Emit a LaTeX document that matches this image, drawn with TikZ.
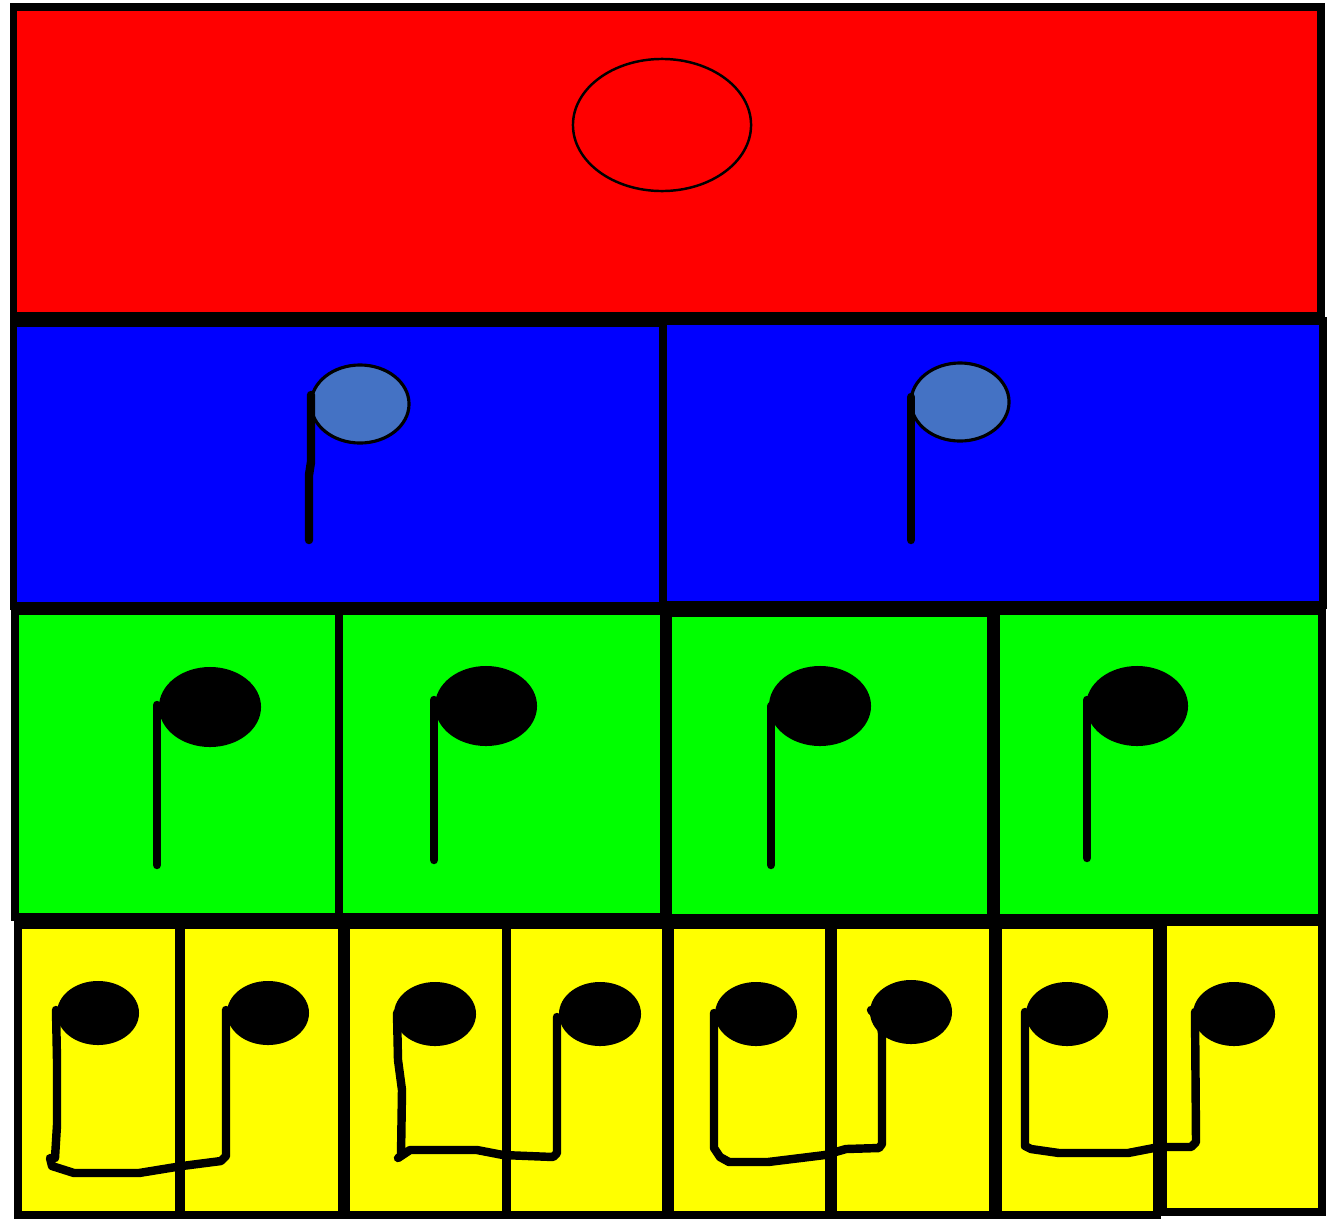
\documentclass[tikz,border=0pt]{standalone}
\usepackage{xcolor}
\usepackage{tikz}
\definecolor{wholeRed}{HTML}{FF0000}
\definecolor{halfBlue}{HTML}{0000FF}
\definecolor{quarterGreen}{HTML}{00FF00}
\definecolor{eighthYellow}{HTML}{FFFF00}
\definecolor{headBlue}{HTML}{4472C4}
\tikzset{
  box/.style={draw=black, line width=2.1pt},
  stem/.style={draw=black, line width=2.4pt, line cap=round, line join=round},
}
\begin{document}
\begin{tikzpicture}[x=0.01cm, y=-0.01cm]
\useasboundingbox (0,0) rectangle (1340,1218);
% whole note
\draw[box, fill=wholeRed] (13.5,7) rectangle (1321,316);
\draw[fill=wholeRed, line width=0.7pt] (662,125) ellipse [x radius=0.89cm, y radius=0.66cm];
% half notes
\draw[box, fill=halfBlue] (13.5,323) rectangle (663,606);
\draw[box, fill=halfBlue] (663,321) rectangle (1323,605);
\draw[fill=headBlue, line width=0.9pt] (360,404) ellipse [x radius=0.49cm, y radius=0.39cm];
\draw[fill=headBlue, line width=0.9pt] (960,402) ellipse [x radius=0.49cm, y radius=0.39cm];
\draw[stem] (311,395) -- (311,462) -- (309,475) -- (309,540);
\draw[stem] (911,397) -- (911,540);
% quarter notes
\foreach \xa/\ya/\xb/\yb in {15/611/339/917, 339/611/664/917, 668/613/991/918, 996/611/1322/918}
  \draw[box, fill=quarterGreen] (\xa,\ya) rectangle (\xb,\yb);
\foreach \hx/\hy/\sx/\st/\sb in {210/707/157/705/865, 486/706/434/700/860, 820/706/771/706/865, 1137/706/1087/700/858} {
  \fill (\hx,\hy) ellipse [x radius=0.51cm, y radius=0.40cm];
  \draw[stem] (\sx,\st) -- (\sx,\sb);
}
% eighth notes
\foreach \xa/\ya/\xb/\yb in {18/925/179/1215, 181/925/342/1215, 346/925/506/1215, 507/925/666/1215,
    670/925/829/1215, 833/925/993/1215, 998/925/1157/1215, 1163/922/1322/1212}
  \draw[box, fill=eighthYellow] (\xa,\ya) rectangle (\xb,\yb);
\foreach \hx/\hy in {98/1013, 268/1013, 435/1014, 600/1014, 756/1014, 911/1012, 1067/1014, 1234/1014}
  \fill (\hx,\hy) ellipse [x radius=0.41cm, y radius=0.32cm];
% beamed pairs
\draw[stem] (56,1010) -- (57,1060) -- (57,1125) -- (55,1158) -- (50,1158) -- (52,1166) -- (74,1173)
  -- (139,1173) -- (182,1166) -- (221,1161) -- (226,1156) -- (226,1010);
\draw[stem] (397,1013) -- (398,1060) -- (402,1090) -- (401,1156) -- (398,1158) -- (410,1150)
  -- (477,1150) -- (503,1155) -- (553,1157) -- (557,1153) -- (557,1017);
\draw[stem] (714,1013) -- (714,1148) -- (720,1157) -- (729,1162) -- (768,1162) -- (825,1155)
  -- (846,1149) -- (879,1148) -- (882,1144) -- (882,1033) -- (880,1020) -- (871,1010);
\draw[stem] (1025,1012) -- (1025,1146) -- (1031,1149) -- (1059,1153) -- (1128,1153) -- (1159,1147)
  -- (1191,1147) -- (1196,1142) -- (1195,1012);
\end{tikzpicture}
\end{document}
